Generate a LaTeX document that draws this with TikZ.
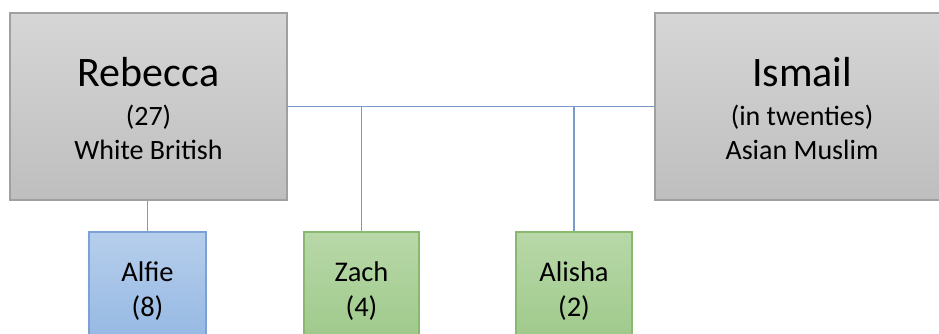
\documentclass[tikz,border=0pt]{standalone}
\usepackage{fontspec}
\setmainfont{Carlito}
\definecolor{lnc}{RGB}{122,154,200}
\definecolor{gtop}{RGB}{214,214,214}
\definecolor{gbot}{RGB}{190,190,190}
\definecolor{gbrd}{RGB}{160,160,160}
\definecolor{btop}{RGB}{182,206,236}
\definecolor{bbot}{RGB}{146,182,226}
\definecolor{bbrd}{RGB}{122,162,212}
\definecolor{ntop}{RGB}{184,216,168}
\definecolor{nbot}{RGB}{156,200,136}
\definecolor{nbrd}{RGB}{138,184,110}
\tikzset{
  adult/.style={rectangle, draw=gbrd, line width=1.2pt, top color=gtop, bottom color=gbot, inner sep=0pt},
  kidb/.style={rectangle, draw=bbrd, line width=1.2pt, top color=btop, bottom color=bbot, inner sep=0pt},
  kidg/.style={rectangle, draw=nbrd, line width=1.2pt, top color=ntop, bottom color=nbot, inner sep=0pt},
  big/.style={font=\fontsize{42}{42}\selectfont, anchor=base, inner sep=0pt},
  small/.style={font=\fontsize{28}{28}\selectfont, anchor=base, inner sep=0pt},
  kid/.style={font=\fontsize{28.5}{28.5}\selectfont, anchor=base, inner sep=0pt},
  link/.style={draw=lnc, line width=1.3pt}
}
\begin{document}
\begin{tikzpicture}[x=1pt,y=-1pt]
\useasboundingbox (0,0) rectangle (939,334);
\clip (0,0) rectangle (939,334);
% boxes
\node[adult, minimum width=277pt, minimum height=187pt] (reb) at (148.5,106.5) {};
\node[adult, minimum width=290pt, minimum height=187pt] (ism) at (800,106.5) {};
\node[kidb, minimum width=117pt, minimum height=120pt] (alf) at (147.5,292) {};
\node[kidg, minimum width=115pt, minimum height=120pt] (zac) at (361.5,292) {};
\node[kidg, minimum width=116pt, minimum height=120pt] (ali) at (574,292) {};
% connectors
\draw[link] (reb.east) -- (ism.west);
\draw[link] (reb.south -| alf.north) -- (alf.north);
\draw[link] (reb.east -| zac.north) -- (zac.north);
\draw[link] (reb.east -| ali.north) -- (ali.north);
% texts
\node[big] (reb1) at (148.5,87) {Rebecca};
\node[small] (reb2) at (148.5,126) {(27)};
\node[small] (reb3) at (148.5,159) {White British};
\node[big] (ism1) at (802,87) {Ismail};
\node[small] (ism2) at (802,126) {(in twenties)};
\node[small] (ism3) at (802,159) {Asian Muslim};
\node[kid] (alf1) at (147.5,281) {Alfie};
\node[kid] (alf2) at (147.5,316) {(8)};
\node[kid] (zac1) at (361.5,281) {Zach};
\node[kid] (zac2) at (361.5,316) {(4)};
\node[kid] (ali1) at (574,281) {Alisha};
\node[kid] (ali2) at (574,316) {(2)};
\end{tikzpicture}
\end{document}
